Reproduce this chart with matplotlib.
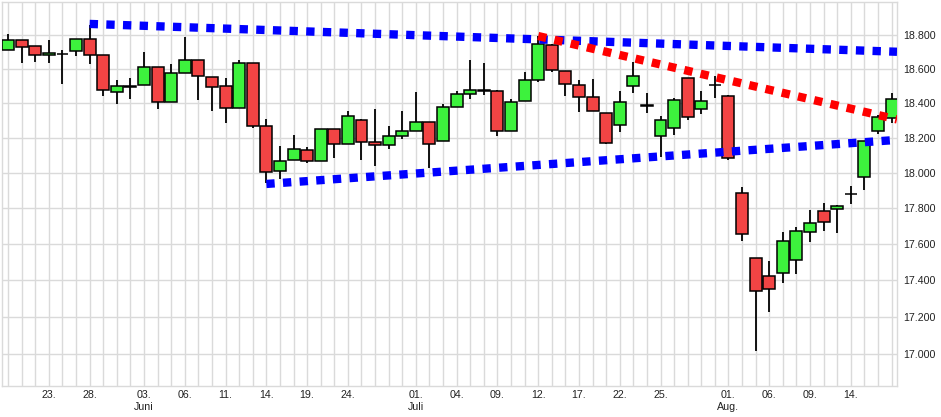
import matplotlib
matplotlib.use('Agg')
import matplotlib.pyplot as plt
import pandas as pd
from matplotlib.ticker import FixedLocator, NullLocator, FuncFormatter

# daily candles, 20.05.2024 - 19.08.2024
dates = pd.bdate_range('2024-05-20', '2024-08-19')
opens = [18711, 18768, 18733, 18680, 18688, 18704, 18775, 18680, 18463, 18494,
         18504, 18609, 18405, 18574, 18650, 18550, 18498, 18370, 18632, 18266,
         18009, 18072, 18129, 18066, 18253, 18163, 18301, 18175, 18157, 18209,
         18237, 18290, 18180, 18376, 18452, 18470, 18468, 18237, 18411, 18533,
         18739, 18586, 18507, 18436, 18341, 18273, 18498, 18386, 18209, 18255,
         18544, 18364, 18503, 18440, 17884, 17521, 17422, 17438, 17513, 17668,
         17782, 17797, 17878, 17975, 18237, 18312]
highs = [18806, 18768, 18733, 18770, 18711, 18778, 18860, 18680, 18535, 18546,
         18700, 18612, 18629, 18788, 18650, 18550, 18546, 18652, 18632, 18306,
         18151, 18216, 18149, 18253, 18253, 18353, 18307, 18364, 18268, 18353,
         18463, 18290, 18393, 18471, 18652, 18632, 18476, 18422, 18581, 18797,
         18745, 18586, 18535, 18540, 18341, 18468, 18642, 18459, 18326, 18430,
         18544, 18471, 18560, 18446, 17920, 17521, 17507, 17666, 17694, 17790,
         17830, 17816, 17926, 18181, 18330, 18458]
lows = [18711, 18636, 18642, 18636, 18513, 18678, 18630, 18440, 18393, 18426,
        18504, 18364, 18405, 18574, 18420, 18356, 18284, 18370, 18255, 17941,
        17965, 18072, 18055, 18066, 18086, 18163, 18075, 18040, 18138, 18195,
        18237, 18029, 18180, 18376, 18422, 18447, 18213, 18237, 18411, 18522,
        18580, 18443, 18346, 18353, 18163, 18231, 18460, 18344, 18092, 18217,
        18304, 18339, 18432, 18074, 17619, 17018, 17229, 17383, 17434, 17612,
        17672, 17661, 17826, 17905, 18224, 18284]
closes = [18768, 18727, 18680, 18692, 18690, 18775, 18680, 18474, 18498, 18498,
          18609, 18405, 18574, 18650, 18558, 18495, 18370, 18632, 18266, 18003,
          18066, 18134, 18066, 18253, 18163, 18324, 18175, 18160, 18209, 18237,
          18290, 18163, 18376, 18452, 18474, 18474, 18237, 18405, 18533, 18749,
          18593, 18513, 18436, 18353, 18169, 18405, 18556, 18390, 18301, 18416,
          18318, 18411, 18508, 18085, 17658, 17340, 17351, 17616, 17675, 17719,
          17723, 17810, 17882, 18181, 18322, 18422]

# trend lines: (day index, level)
upper_x, upper_y = [6, 65.4], [18866, 18701]
lower_x, lower_y = [19, 65.4], [17937, 18188]
red_x, red_y = [39, 65.4], [18794, 18306]

tick_idx = [3, 6, 10, 13, 16, 19, 22, 25, 30, 33, 36, 39, 42, 45, 48, 53, 56, 59, 62]
tick_labels = ['23.', '28.', '03.\nJuni', '06.', '11.', '14.', '19.', '24.',
               '01.\nJuli', '04.', '09.', '12.', '17.', '22.', '25.',
               '01.\nAug.', '06.', '09.', '14.']
y_levels = [17000, 17200, 17400, 17600, 17800, 18000, 18200, 18400, 18600, 18800]

GREEN = '#3df23d'
RED = '#f24444'
GRID = '#dadada'

plt.rcParams['font.family'] = ['Liberation Sans', 'DejaVu Sans']

fig = plt.figure(figsize=(9.41, 4.17), dpi=100)
ax = fig.add_axes([2 / 941, 31 / 417, 895 / 941, 384 / 417])

x = list(range(len(dates)))
ax.vlines(x, lows, highs, color='black', linewidth=1.3, zorder=2)
bottoms = [min(o, c) for o, c in zip(opens, closes)]
heights = [abs(c - o) for o, c in zip(opens, closes)]
colors = [GREEN if c >= o else RED for o, c in zip(opens, closes)]
ax.bar(x, heights, bottom=bottoms, width=0.88, color=colors,
       edgecolor='black', linewidth=1.1, zorder=3)

for tx, ty, col in [(upper_x, upper_y, '#0000ff'), (lower_x, lower_y, '#0000ff'),
                    (red_x, red_y, '#ff0000')]:
    ax.plot(tx, ty, color=col, linewidth=6, linestyle=(0, (1, 1)),
            dash_capstyle='butt', zorder=4)

ax.set_yscale('log')
ax.set_ylim(16829, 18997)
ax.set_xlim(-0.45, 65.4)

ax.yaxis.set_major_locator(FixedLocator(y_levels))
ax.yaxis.set_minor_locator(NullLocator())
ax.yaxis.set_major_formatter(FuncFormatter(lambda v, p: f'{v:,.0f}'.replace(',', '.')))
ax.yaxis.tick_right()

ax.set_xticks(tick_idx)
ax.set_xticklabels(tick_labels)
ax.set_xticks(x, minor=True)

ax.grid(True, which='both', color=GRID, linewidth=1, zorder=0)
ax.set_axisbelow(True)
ax.tick_params(axis='both', which='both', length=0, labelsize=7.7, colors='#222222')
ax.tick_params(axis='y', pad=4.5)
ax.tick_params(axis='x', pad=3)
for s in ax.spines.values():
    s.set_color(GRID)
    s.set_linewidth(1)

fig.savefig('out.png', dpi=100)
